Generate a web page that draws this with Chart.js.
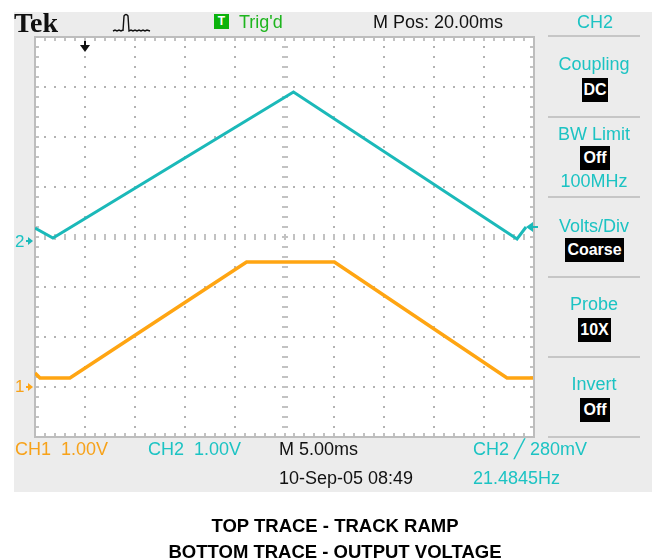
<!DOCTYPE html>
<html>
<head>
<meta charset="utf-8">
<script src="https://cdn.jsdelivr.net/npm/chart.js@4"></script>
<style>
  html, body { margin: 0; padding: 0; background: #fff; width: 652px; height: 560px; overflow: hidden; }
  #scope { position: absolute; left: 14px; top: 12px; width: 638px; height: 480px; background: #ececec; }
  #cv { position: absolute; left: 0; top: 0; }
  .t { position: absolute; white-space: pre; font-family: "Liberation Sans", Arial, sans-serif; font-size: 18px; line-height: 18px; }
  .c { transform: translateX(-50%); }
  .cy { color: #1cc3c3; }
  .or { color: #f7a21a; }
  .bk { color: #111; }
  .box { position: absolute; background: #000; color: #fff; text-align: center; height: 24px; line-height: 24px;
         font-family: "Liberation Sans", Arial, sans-serif; font-weight: bold; font-size: 16px; }
  .sep { position: absolute; left: 548px; width: 92px; height: 2px; background: #c6c6c6; }
  .cap { position: absolute; left: 0; width: 670px; text-align: center; color: #000;
         font: bold 18.5px/18.5px "Liberation Sans", Arial, sans-serif; }
</style>
</head>
<body>
<div id="scope"></div>
<canvas id="cv" width="652" height="560"></canvas>

<!-- header -->
<div class="t bk" style="left:14px;top:9px;font:bold 28px/28px 'Liberation Serif','Times New Roman',serif;">Tek</div>
<svg style="position:absolute;left:112px;top:12px" width="40" height="24">
  <path d="M1 19 l2 -1 l2 1 l2 -1 l2 1 l2 -1 L11 19 L12 4 Q14 1 16 4 L17 19 l2 -1 l2 1 l2 -1 l2 1 l2 -1 l2 1 l2 -1 l2 1 l2 -1 L38 19"
        fill="none" stroke="#111" stroke-width="1.4"/>
</svg>
<div style="position:absolute;left:214px;top:14px;width:15px;height:15px;background:#0cb30c;color:#fff;
     font:bold 12px/15px 'Liberation Sans',Arial,sans-serif;text-align:center;">T</div>
<div class="t" style="left:239px;top:13px;color:#1eb51e;">Trig'd</div>
<div class="t bk" style="left:373px;top:13px;">M Pos: 20.00ms</div>
<div class="t cy" style="left:577px;top:13px;">CH2</div>
<div class="sep" style="top:35px;"></div>

<!-- side menu -->
<div class="t cy c" style="left:594px;top:55px;">Coupling</div>
<div class="box" style="left:582px;top:78px;width:26px;">DC</div>
<div class="sep" style="top:116px;"></div>
<div class="t cy c" style="left:594px;top:125px;">BW Limit</div>
<div class="box" style="left:580px;top:146px;width:30px;">Off</div>
<div class="t cy c" style="left:594px;top:172px;">100MHz</div>
<div class="sep" style="top:196px;"></div>
<div class="t cy c" style="left:594px;top:217px;">Volts/Div</div>
<div class="box" style="left:565px;top:238px;width:59px;">Coarse</div>
<div class="sep" style="top:276px;"></div>
<div class="t cy c" style="left:594px;top:295px;">Probe</div>
<div class="box" style="left:578px;top:318px;width:33px;">10X</div>
<div class="sep" style="top:356px;"></div>
<div class="t cy c" style="left:594px;top:375px;">Invert</div>
<div class="box" style="left:580px;top:398px;width:30px;">Off</div>
<div class="sep" style="top:436px;"></div>

<!-- ground markers -->
<div class="t cy" style="left:15px;top:233px;font-size:17px;line-height:17px;">2</div>
<div class="t or" style="left:15px;top:378px;font-size:17px;line-height:17px;">1</div>

<!-- status rows -->
<div class="t or" style="left:15px;top:440px;">CH1  1.00V</div>
<div class="t cy" style="left:148px;top:440px;">CH2  1.00V</div>
<div class="t bk" style="left:279px;top:440px;">M 5.00ms</div>
<div class="t cy" style="left:473px;top:440px;">CH2 ╱ 280mV</div>
<div class="t bk" style="left:279px;top:469px;">10-Sep-05 08:49</div>
<div class="t cy" style="left:473px;top:469px;">21.4845Hz</div>

<div class="cap" style="top:517px;">TOP TRACE - TRACK RAMP</div>
<div class="cap" style="top:543px;">BOTTOM TRACE - OUTPUT VOLTAGE</div>

<script>
// time in ms (5 ms/div), screen position in V (1 V/div) from centre line
const ch2Time  = [0, 1.8, 25.9, 48.3, 49.2];
const ch2Volts = [0.18, -0.02, 2.9, -0.04, 0.2];
const ch1Time  = [0, 0.5, 3.5, 21.2, 30.0, 47.3, 49.9];
const ch1Volts = [-2.72, -2.82, -2.82, -0.5, -0.5, -2.82, -2.82];

const ch2Ground = -0.08;   // "2" marker
const ch1Ground = -3.0;    // "1" marker
const trigLevel = 0.28;    // 280mV on CH2
const trigTime  = 5;       // trigger position arrow on top

const CYAN = "#1bb9b9", ORANGE = "#ffa512";

const toPts = (ts, vs) => ts.map((t, i) => ({ x: t, y: vs[i] }));

const graticule = {
  id: "graticule",
  beforeDatasetsDraw(chart) {
    const { ctx, chartArea: a, scales: { x, y } } = chart;
    ctx.save();
    ctx.fillStyle = "#fff";
    ctx.fillRect(a.left, a.top, a.right - a.left, a.bottom - a.top);

    // dotted major lines
    ctx.fillStyle = "#b3b3b3";
    for (let d = 1; d < 10; d++) {
      if (d === 5) continue;
      const px = Math.round(x.getPixelForValue(d * 5));
      for (let j = 0; j <= 40; j++) {
        const py = Math.round(y.getPixelForValue(-4 + j * 0.2));
        ctx.fillRect(px - 1, py - 1, 2, 2);
      }
    }
    for (let d = 1; d < 8; d++) {
      if (d === 4) continue;
      const py = Math.round(y.getPixelForValue(-4 + d));
      for (let i = 0; i <= 50; i++) {
        const px = Math.round(x.getPixelForValue(i));
        ctx.fillRect(px - 1, py - 1, 2, 2);
      }
    }

    // centre cross with minor dashes
    ctx.strokeStyle = "#c2c2c2";
    ctx.lineWidth = 2;
    ctx.beginPath();
    const cy = Math.round(y.getPixelForValue(0)), cx = Math.round(x.getPixelForValue(25));
    for (let i = 1; i < 50; i++) {
      const px = Math.round(x.getPixelForValue(i));
      ctx.moveTo(px, cy - 3); ctx.lineTo(px, cy + 3);
    }
    for (let j = 1; j < 40; j++) {
      const py = Math.round(y.getPixelForValue(-4 + j * 0.2));
      ctx.moveTo(cx - 3, py); ctx.lineTo(cx + 3, py);
    }
    // border ticks
    for (let i = 1; i < 50; i++) {
      const px = Math.round(x.getPixelForValue(i));
      ctx.moveTo(px, a.top); ctx.lineTo(px, a.top + 4);
      ctx.moveTo(px, a.bottom); ctx.lineTo(px, a.bottom - 4);
    }
    for (let j = 1; j < 40; j++) {
      const py = Math.round(y.getPixelForValue(-4 + j * 0.2));
      ctx.moveTo(a.left, py); ctx.lineTo(a.left + 4, py);
      ctx.moveTo(a.right, py); ctx.lineTo(a.right - 4, py);
    }
    ctx.stroke();

    ctx.strokeStyle = "#bdbdbd";
    ctx.lineWidth = 2;
    ctx.strokeRect(a.left, a.top, a.right - a.left, a.bottom - a.top);
    ctx.restore();
  },
  afterDatasetsDraw(chart) {
    const { ctx, chartArea: a, scales: { x, y } } = chart;
    ctx.save();
    // trigger position arrow
    const tx = Math.round(x.getPixelForValue(trigTime));
    ctx.strokeStyle = ctx.fillStyle = "#111";
    ctx.lineWidth = 2;
    ctx.beginPath(); ctx.moveTo(tx, a.top + 4); ctx.lineTo(tx, a.top + 9); ctx.stroke();
    ctx.beginPath(); ctx.moveTo(tx - 5, a.top + 8); ctx.lineTo(tx + 5, a.top + 8); ctx.lineTo(tx, a.top + 15); ctx.closePath(); ctx.fill();

    // trigger level arrow (right edge)
    const ty = y.getPixelForValue(ch2Ground + trigLevel);
    ctx.strokeStyle = ctx.fillStyle = CYAN;
    ctx.beginPath(); ctx.moveTo(a.right - 8, ty); ctx.lineTo(a.right - 1, ty - 5); ctx.lineTo(a.right - 1, ty + 5); ctx.closePath(); ctx.fill();
    ctx.beginPath(); ctx.moveTo(a.right - 2, ty); ctx.lineTo(a.right + 4, ty); ctx.stroke();

    // ground markers
    [[ch2Ground, CYAN], [ch1Ground, ORANGE]].forEach(([g, col]) => {
      const gy = y.getPixelForValue(g);
      ctx.fillStyle = col;
      ctx.beginPath(); ctx.moveTo(a.left - 2, gy); ctx.lineTo(a.left - 7, gy - 4); ctx.lineTo(a.left - 7, gy + 4); ctx.closePath(); ctx.fill();
      ctx.fillRect(a.left - 9, gy - 1, 3, 2);
    });
    ctx.restore();
  }
};

new Chart(document.getElementById("cv"), {
  type: "scatter",
  data: {
    datasets: [
      { label: "CH1", data: toPts(ch1Time, ch1Volts), showLine: true, borderColor: ORANGE, borderWidth: 3.5, pointRadius: 0, tension: 0 },
      { label: "CH2", data: toPts(ch2Time, ch2Volts), showLine: true, borderColor: CYAN, borderWidth: 3, pointRadius: 0, tension: 0 }
    ]
  },
  options: {
    responsive: false,
    animation: false,
    layout: { padding: { left: 35, top: 37, right: 118, bottom: 123 } },
    scales: {
      x: { type: "linear", min: 0, max: 50, display: false },
      y: { type: "linear", min: -4, max: 4, display: false }
    },
    plugins: { legend: { display: false }, tooltip: { enabled: false } }
  },
  plugins: [graticule]
});
</script>
</body>
</html>
